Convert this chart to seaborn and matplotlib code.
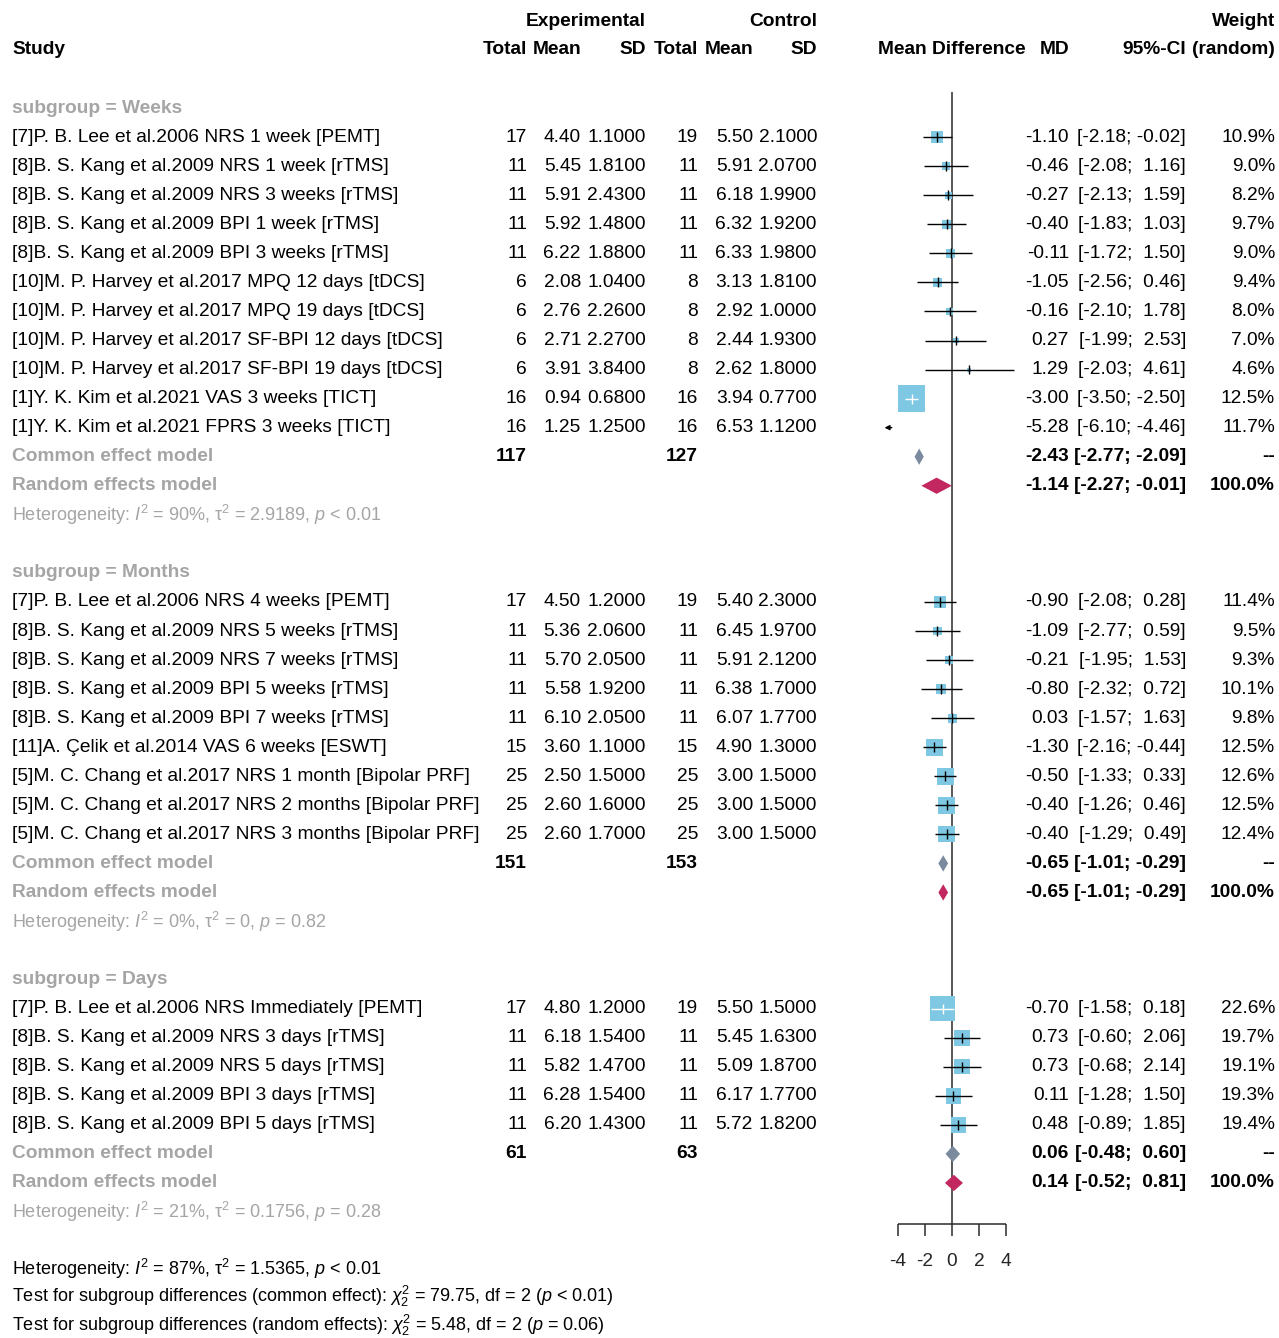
import numpy as np
import matplotlib
matplotlib.use("Agg")
import matplotlib.pyplot as plt
from matplotlib.patches import Polygon
import seaborn as sns

# ---------------- data ----------------
subgroups = ["Weeks", "Months", "Days"]
study_group = ["Weeks"] * 11 + ["Months"] * 9 + ["Days"] * 5
study_labels = [
    "[7]P. B. Lee et al.2006 NRS 1 week [PEMT]",
    "[8]B. S. Kang et al.2009 NRS 1 week [rTMS]",
    "[8]B. S. Kang et al.2009 NRS 3 weeks [rTMS]",
    "[8]B. S. Kang et al.2009 BPI 1 week [rTMS]",
    "[8]B. S. Kang et al.2009 BPI 3 weeks [rTMS]",
    "[10]M. P. Harvey et al.2017 MPQ 12 days [tDCS]",
    "[10]M. P. Harvey et al.2017 MPQ 19 days [tDCS]",
    "[10]M. P. Harvey et al.2017 SF-BPI 12 days [tDCS]",
    "[10]M. P. Harvey et al.2017 SF-BPI 19 days [tDCS]",
    "[1]Y. K. Kim et al.2021 VAS 3 weeks [TICT]",
    "[1]Y. K. Kim et al.2021 FPRS 3 weeks [TICT]",
    "[7]P. B. Lee et al.2006 NRS 4 weeks [PEMT]",
    "[8]B. S. Kang et al.2009 NRS 5 weeks [rTMS]",
    "[8]B. S. Kang et al.2009 NRS 7 weeks [rTMS]",
    "[8]B. S. Kang et al.2009 BPI 5 weeks [rTMS]",
    "[8]B. S. Kang et al.2009 BPI 7 weeks [rTMS]",
    "[11]A. Çelik et al.2014 VAS 6 weeks [ESWT]",
    "[5]M. C. Chang et al.2017 NRS 1 month [Bipolar PRF]",
    "[5]M. C. Chang et al.2017 NRS 2 months [Bipolar PRF]",
    "[5]M. C. Chang et al.2017 NRS 3 months [Bipolar PRF]",
    "[7]P. B. Lee et al.2006 NRS Immediately [PEMT]",
    "[8]B. S. Kang et al.2009 NRS 3 days [rTMS]",
    "[8]B. S. Kang et al.2009 NRS 5 days [rTMS]",
    "[8]B. S. Kang et al.2009 BPI 3 days [rTMS]",
    "[8]B. S. Kang et al.2009 BPI 5 days [rTMS]",
]
n_exp = [17, 11, 11, 11, 11, 6, 6, 6, 6, 16, 16,
         17, 11, 11, 11, 11, 15, 25, 25, 25,
         17, 11, 11, 11, 11]
mean_exp = [4.40, 5.45, 5.91, 5.92, 6.22, 2.08, 2.76, 2.71, 3.91, 0.94, 1.25,
            4.50, 5.36, 5.70, 5.58, 6.10, 3.60, 2.50, 2.60, 2.60,
            4.80, 6.18, 5.82, 6.28, 6.20]
sd_exp = [1.10, 1.81, 2.43, 1.48, 1.88, 1.04, 2.26, 2.27, 3.84, 0.68, 1.25,
          1.20, 2.06, 2.05, 1.92, 2.05, 1.10, 1.50, 1.60, 1.70,
          1.20, 1.54, 1.47, 1.54, 1.43]
n_ctl = [19, 11, 11, 11, 11, 8, 8, 8, 8, 16, 16,
         19, 11, 11, 11, 11, 15, 25, 25, 25,
         19, 11, 11, 11, 11]
mean_ctl = [5.50, 5.91, 6.18, 6.32, 6.33, 3.13, 2.92, 2.44, 2.62, 3.94, 6.53,
            5.40, 6.45, 5.91, 6.38, 6.07, 4.90, 3.00, 3.00, 3.00,
            5.50, 5.45, 5.09, 6.17, 5.72]
sd_ctl = [2.10, 2.07, 1.99, 1.92, 1.98, 1.81, 1.00, 1.93, 1.80, 0.77, 1.12,
          2.30, 1.97, 2.12, 1.70, 1.77, 1.30, 1.50, 1.50, 1.50,
          1.50, 1.63, 1.87, 1.77, 1.82]
md = [-1.10, -0.46, -0.27, -0.40, -0.11, -1.05, -0.16, 0.27, 1.29, -3.00, -5.28,
      -0.90, -1.09, -0.21, -0.80, 0.03, -1.30, -0.50, -0.40, -0.40,
      -0.70, 0.73, 0.73, 0.11, 0.48]
ci_low = [-2.18, -2.08, -2.13, -1.83, -1.72, -2.56, -2.10, -1.99, -2.03, -3.50, -6.10,
          -2.08, -2.77, -1.95, -2.32, -1.57, -2.16, -1.33, -1.26, -1.29,
          -1.58, -0.60, -0.68, -1.28, -0.89]
ci_high = [-0.02, 1.16, 1.59, 1.03, 1.50, 0.46, 1.78, 2.53, 4.61, -2.50, -4.46,
           0.28, 0.59, 1.53, 0.72, 1.63, -0.44, 0.33, 0.46, 0.49,
           0.18, 2.06, 2.14, 1.50, 1.85]
weight_random = [10.9, 9.0, 8.2, 9.7, 9.0, 9.4, 8.0, 7.0, 4.6, 12.5, 11.7,
                 11.4, 9.5, 9.3, 10.1, 9.8, 12.5, 12.6, 12.5, 12.4,
                 22.6, 19.7, 19.1, 19.3, 19.4]

# pooled results per subgroup
total_exp = [117, 151, 61]
total_ctl = [127, 153, 63]
common_md = [-2.43, -0.65, 0.06]
common_low = [-2.77, -1.01, -0.48]
common_high = [-2.09, -0.29, 0.60]
random_md = [-1.14, -0.65, 0.14]
random_low = [-2.27, -1.01, -0.52]
random_high = [-0.01, -0.29, 0.81]
het_i2 = ["90", "0", "21"]
het_tau2 = ["2.9189", "0", "0.1756"]
het_p = ["< 0.01", "= 0.82", "= 0.28"]

axis_ticks = [-4, -2, 0, 2, 4]
x_limits = (-5, 5)

footer_lines = [
    r"Heterogeneity: $I^2$ = 87%, $\mathrm{\tau}^2$ = 1.5365, $p$ < 0.01",
    r"Test for subgroup differences (common effect): $\chi^2_2$ = 79.75, df = 2 ($p$ < 0.01)",
    r"Test for subgroup differences (random effects): $\chi^2_2$ = 5.48, df = 2 ($p$ = 0.06)",
]

# ---------------- style ----------------
sns.set_theme(style="white")
plt.rcParams["font.family"] = ["Liberation Sans", "DejaVu Sans"]
plt.rcParams["mathtext.fontset"] = "custom"
plt.rcParams["mathtext.rm"] = "Liberation Sans"
plt.rcParams["mathtext.it"] = "Liberation Sans:italic"
plt.rcParams["mathtext.bf"] = "Liberation Sans:bold"

FS = 13.75
FS_HET = 13
GREY = "#a5a5a5"
SQ_COL = "#7ec8e3"
COMMON_COL = "#7b8b9f"
RANDOM_COL = "#c2285f"

W, H = 1279, 1338
ROW0_PX, ROW_PX = 50, 29.05    # pixel position of row 0 and row pitch
PX_PER_UNIT = 13.5             # forest scale
ZERO_PX = 952

# column anchors (pixels)
X_STUDY = 12
X_NE, X_ME, X_SE = 527, 581, 646
X_NC, X_MC, X_SC = 698, 753, 817
X_MD, X_CI, X_W = 1069, 1186, 1275

fig = plt.figure(figsize=(W / 100, H / 100), dpi=100)
ylim = ((H - ROW0_PX) / ROW_PX, -ROW0_PX / ROW_PX)
ax = fig.add_axes([0, 0, 1, 1])
ax.set_xlim(0, W)
ax.set_ylim(*ylim)
ax.axis("off")

f_half = 5.4
fax = fig.add_axes([(ZERO_PX - f_half * PX_PER_UNIT) / W, 0, 2 * f_half * PX_PER_UNIT / W, 1])
fax.set_xlim(-f_half, f_half)
fax.set_ylim(*ylim)
fax.axis("off")


def txt(x, y, s, ha="right", bold=False, color="black", size=FS):
    ax.text(x, y, s, ha=ha, va="center", fontsize=size, color=color,
            fontweight="bold" if bold else "normal")


def ci_str(lo, hi):
    return f"[{lo:5.2f}; {hi:5.2f}]"


# header
txt(X_SE, -0.97, "Experimental", bold=True)
txt(X_SC, -0.97, "Control", bold=True)
txt(X_W, -0.97, "Weight", bold=True)
txt(X_STUDY, 0, "Study", ha="left", bold=True)
for x, s in [(X_NE, "Total"), (X_ME, "Mean"), (X_SE, "SD"),
             (X_NC, "Total"), (X_MC, "Mean"), (X_SC, "SD"),
             (X_MD, "MD"), (X_CI, "95%-CI"), (X_W, "(random)")]:
    txt(x, 0, s, bold=True)
txt(ZERO_PX, 0, "Mean Difference", ha="center", bold=True)

# layout rows and draw
study_rows = np.zeros(len(study_labels))
box_px = np.zeros(len(study_labels))
r = 2
last_het = r
for gi, g in enumerate(subgroups):
    idx = [i for i, sg in enumerate(study_group) if sg == g]
    txt(X_STUDY, r, f"subgroup = {g}", ha="left", bold=True, color=GREY)
    r += 1
    # inverse-variance weights within subgroup -> square size
    iv = np.array([1 / (sd_exp[i] ** 2 / n_exp[i] + sd_ctl[i] ** 2 / n_ctl[i]) for i in idx])
    pct = 100 * iv / iv.sum()
    for k, i in enumerate(idx):
        study_rows[i] = r
        box_px[i] = 4.0 * np.sqrt(pct[k])
        txt(X_STUDY, r, study_labels[i], ha="left")
        txt(X_NE, r, f"{n_exp[i]}")
        txt(X_ME, r, f"{mean_exp[i]:.2f}")
        txt(X_SE, r, f"{sd_exp[i]:.4f}")
        txt(X_NC, r, f"{n_ctl[i]}")
        txt(X_MC, r, f"{mean_ctl[i]:.2f}")
        txt(X_SC, r, f"{sd_ctl[i]:.4f}")
        txt(X_MD, r, f"{md[i]:.2f}")
        txt(X_CI, r, ci_str(ci_low[i], ci_high[i]))
        txt(X_W, r, f"{weight_random[i]:.1f}%")
        r += 1
    # common effect
    txt(X_STUDY, r, "Common effect model", ha="left", bold=True, color=GREY)
    txt(X_NE, r, f"{total_exp[gi]}", bold=True)
    txt(X_NC, r, f"{total_ctl[gi]}", bold=True)
    txt(X_MD, r, f"{common_md[gi]:.2f}", bold=True)
    txt(X_CI, r, ci_str(common_low[gi], common_high[gi]), bold=True)
    txt(X_W, r, "--", bold=True)
    dh = 0.28
    fax.add_patch(Polygon([(common_low[gi], r), (common_md[gi], r - dh),
                           (common_high[gi], r), (common_md[gi], r + dh)],
                          closed=True, facecolor=COMMON_COL, edgecolor="none", zorder=4))
    r += 1
    txt(X_STUDY, r, "Random effects model", ha="left", bold=True, color=GREY)
    txt(X_MD, r, f"{random_md[gi]:.2f}", bold=True)
    txt(X_CI, r, ci_str(random_low[gi], random_high[gi]), bold=True)
    txt(X_W, r, "100.0%", bold=True)
    fax.add_patch(Polygon([(random_low[gi], r), (random_md[gi], r - dh),
                           (random_high[gi], r), (random_md[gi], r + dh)],
                          closed=True, facecolor=RANDOM_COL, edgecolor="none", zorder=4))
    r += 1
    txt(X_STUDY, r,
        rf"Heterogeneity: $I^2$ = {het_i2[gi]}%, $\mathrm{{\tau}}^2$ = {het_tau2[gi]}, $p$ {het_p[gi]}",
        ha="left", color=GREY, size=FS_HET)
    last_het = r
    r += 2

# forest: squares
md_a = np.array(md)
lo_a = np.array(ci_low)
hi_a = np.array(ci_high)
visible = (md_a >= x_limits[0]) & (md_a <= x_limits[1])
sizes = (box_px * 0.72) ** 2
sns.scatterplot(x=md_a[visible], y=study_rows[visible], s=sizes[visible], marker="s",
                color=SQ_COL, linewidth=0, ax=fax, legend=False, zorder=2)
fax.set_xlim(-f_half, f_half)
fax.set_ylim(*ylim)
fax.axis("off")

# CI lines and point ticks
for i in range(len(md)):
    rr = study_rows[i]
    lo, hi = max(lo_a[i], x_limits[0]), min(hi_a[i], x_limits[1])
    inside = (hi_a[i] - lo_a[i]) * PX_PER_UNIT < box_px[i]
    col = "white" if inside else "black"
    if lo_a[i] < x_limits[0]:
        fax.annotate("", xy=(x_limits[0], rr), xytext=(hi, rr),
                     arrowprops=dict(arrowstyle="-|>", color="black", lw=1.0,
                                     mutation_scale=7, shrinkA=0, shrinkB=0), zorder=3)
    else:
        fax.hlines(rr, lo, hi, color=col, lw=1.0, zorder=3)
    if visible[i]:
        fax.vlines(md_a[i], rr - 0.17, rr + 0.17, color=col, lw=1.0, zorder=3)

# zero line and axis
axis_row = last_het + 0.42
fax.vlines(0, 1.45, axis_row, color="#2b2b2b", lw=1.1, zorder=1)
fax.hlines(axis_row, axis_ticks[0], axis_ticks[-1], color="#2b2b2b", lw=1.1)
fax.vlines(axis_ticks, axis_row, axis_row + 0.42, color="#2b2b2b", lw=1.1)
for t in axis_ticks:
    fax.text(t, axis_row + 1.28, f"{t}", ha="center", va="center", fontsize=FS)

# footer
for k, line in enumerate(footer_lines):
    txt(X_STUDY, last_het + 1.95 + 0.97 * k, line, ha="left", size=FS_HET)

fig.savefig("out.png", dpi=100, facecolor="white")
